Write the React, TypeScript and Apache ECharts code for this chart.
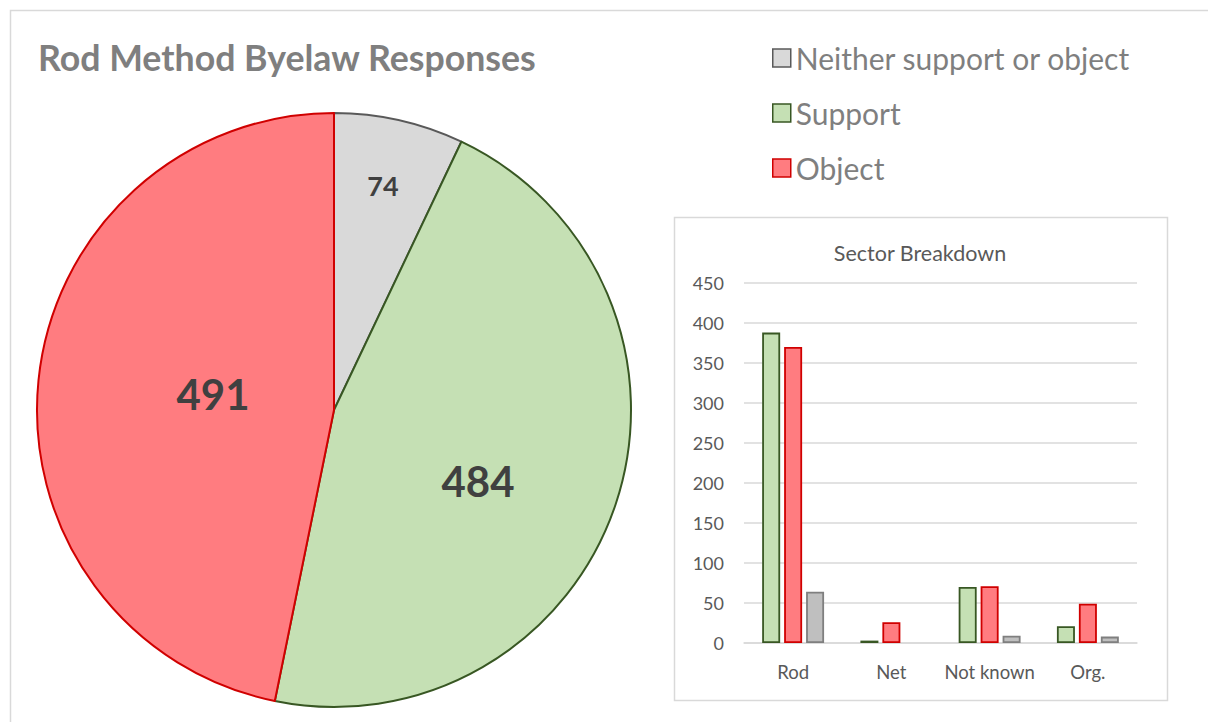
import React, { useEffect, useRef } from "react";
import * as echarts from "echarts";

const pieNames = ["Neither support or object", "Support", "Object"];
const pieValues = [74, 484, 491];

const sectorCategories = ["Rod", "Net", "Not known", "Org."];
const supportValues = [388, 3, 70, 21];
const objectValues = [370, 26, 71, 49];
const neitherValues = [64, 0, 9, 8];
const yTicks = [0, 450, 50]; // min, max, interval

const FONT = "Lato, 'Noto Sans', sans-serif";

const barData = (vals: number[]) =>
  vals.map((v) => (v === 0 ? { value: v, itemStyle: { borderWidth: 0 } } : v));

export default function App() {
  const ref = useRef<HTMLDivElement>(null);
  useEffect(() => {
    const chart = echarts.init(ref.current!, null, { renderer: "svg" });
    const pieFill = ["#d9d9d9", "#c5e0b4", "#ff7c80"];
    const pieBorder = ["#595959", "#385723", "#d00000"];
    const labelPos = [
      [383, 185, 27],
      [478, 481, 42],
      [213, 394, 42],
    ];
    chart.setOption({
      animation: false,
      backgroundColor: "#ffffff",
      legend: {
        orient: "vertical",
        left: 772,
        top: 43,
        padding: 0,
        itemWidth: 18,
        itemHeight: 18,
        itemGap: 25,
        itemTextGap: 10,
        icon: "rect",
        textStyle: { fontFamily: FONT, fontSize: 30, color: "#7f7f7f" },
        data: pieNames.map((n, i) => ({
          name: n,
          itemStyle: { color: pieFill[i], borderColor: pieBorder[i], borderWidth: 1.5 },
        })),
      },
      grid: { left: 744, right: 71, top: 283, bottom: 79 },
      xAxis: {
        type: "category",
        data: sectorCategories,
        axisLine: { lineStyle: { color: "#d9d9d9", width: 1.5 } },
        axisTick: { show: false },
        axisLabel: { color: "#595959", fontSize: 18.5, fontFamily: FONT, margin: 19, interval: 0 },
      },
      yAxis: {
        type: "value",
        min: yTicks[0],
        max: yTicks[1],
        interval: yTicks[2],
        axisLine: { show: false },
        axisTick: { show: false },
        splitLine: { lineStyle: { color: "#d9d9d9", width: 1.5 } },
        axisLabel: { color: "#595959", fontSize: 18, fontFamily: FONT, margin: 20 },
      },
      series: [
        {
          type: "pie",
          center: [334, 410],
          radius: 297,
          startAngle: 90,
          clockwise: true,
          label: { show: false },
          labelLine: { show: false },
          emphasis: { disabled: true },
          data: pieNames.map((n, i) => ({
            name: n,
            value: pieValues[i],
            itemStyle: { color: pieFill[i], borderColor: pieBorder[i], borderWidth: 2 },
          })),
        },
        {
          type: "bar",
          name: "Support",
          data: barData(supportValues),
          barWidth: 18,
          barGap: "22%",
          itemStyle: { color: "#c5e0b4", borderColor: "#385723", borderWidth: 1.8 },
        },
        {
          type: "bar",
          name: "Object",
          data: barData(objectValues),
          barWidth: 18,
          barGap: "22%",
          itemStyle: { color: "#ff7c80", borderColor: "#d00000", borderWidth: 1.8 },
        },
        {
          type: "bar",
          name: "Neither support or object",
          data: barData(neitherValues),
          barWidth: 18,
          barGap: "22%",
          itemStyle: { color: "#bfbfbf", borderColor: "#7f7f7f", borderWidth: 1.8 },
        },
      ],
      graphic: [
        {
          type: "rect",
          shape: { x: 10.5, y: 10.5, width: 1400, height: 900 },
          style: { fill: "none", stroke: "#d9d9d9", lineWidth: 1.5 },
          silent: true,
        },
        {
          type: "rect",
          shape: { x: 674.5, y: 217.5, width: 493, height: 483 },
          style: { fill: "none", stroke: "#d9d9d9", lineWidth: 1.5 },
          silent: true,
        },
        {
          type: "text",
          x: 38,
          y: 57,
          style: {
            text: "Rod Method Byelaw Responses",
            fontFamily: FONT,
            fontWeight: "bold",
            fontSize: 35.7,
            fill: "#7f7f7f",
            verticalAlign: "middle",
          },
        },
        {
          type: "text",
          x: 920,
          y: 253,
          style: {
            text: "Sector Breakdown",
            fontFamily: FONT,
            fontSize: 21.5,
            fill: "#595959",
            align: "center",
            verticalAlign: "middle",
          },
        },
        ...pieValues.map((v, i) => ({
          type: "text",
          x: labelPos[i][0],
          y: labelPos[i][1],
          z: 100,
          style: {
            text: String(v),
            fontFamily: FONT,
            fontWeight: "bold",
            fontSize: labelPos[i][2],
            fill: "#404040",
            align: "center",
            verticalAlign: "middle",
          },
        })),
      ],
    });
    return () => chart.dispose();
  }, []);
  return (
    <div
      ref={ref}
      style={{ position: "fixed", left: 0, top: 0, width: 1208, height: 722 }}
    />
  );
}
